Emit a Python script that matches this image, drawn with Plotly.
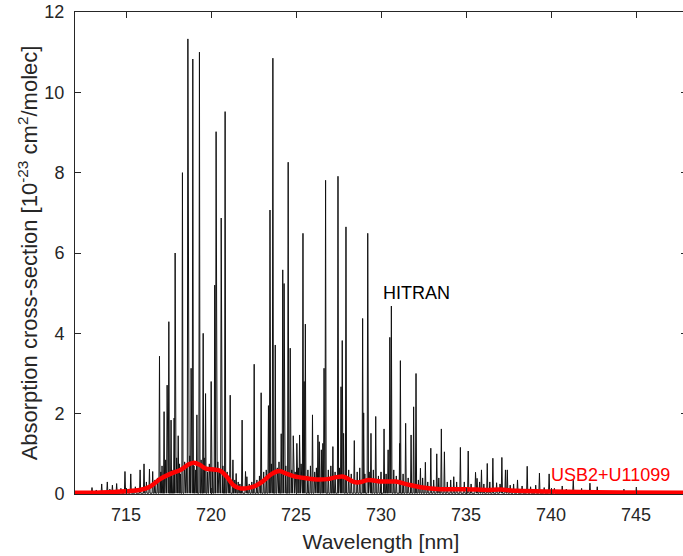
import plotly.graph_objects as go

# ---- HITRAN line positions [nm] and peak cross-sections [1e-23 cm2/molec] ----
line_nm = [
    713.00, 713.57, 713.90, 714.20, 714.45, 714.94, 715.28, 715.83, 716.06, 716.38,
    716.57, 716.97, 717.24, 717.42, 717.52, 717.65, 717.83, 717.89, 718.07, 718.32,
    718.64, 718.83, 718.93, 719.17, 719.32, 719.54, 719.68, 720.01, 720.22, 720.30,
    720.60, 720.83, 721.13, 721.29, 721.48, 721.83, 722.03, 722.11, 722.54, 722.95,
    723.38, 723.47, 723.64, 723.78, 724.13, 724.22, 724.30, 724.54, 724.66, 724.84,
    725.05, 725.21, 725.41, 725.48, 725.55, 725.97, 726.29, 726.37, 726.49, 726.58,
    726.65, 726.74, 727.17, 727.47, 727.65, 727.72, 727.80, 727.94, 728.43, 728.92,
    728.98, 729.22, 729.41, 729.69, 730.18, 730.42, 730.52, 730.61, 731.10, 731.14,
    731.45, 731.77, 731.92, 732.06, 732.32, 732.61, 732.93, 733.28, 733.55, 733.73,
    734.28, 734.67, 735.13, 735.56, 735.65, 735.91, 736.25, 736.58, 737.11, 737.32,
    737.43, 738.03, 738.60, 739.32, 739.89, 740.66, 741.31, 741.80, 742.29, 742.72,
    744.29, 745.02,
]
line_val = [
    0.16, 0.25, 0.30, 0.22, 0.26, 0.56, 0.50, 0.60, 0.75, 0.62,
    0.56, 3.43, 2.05, 2.71, 4.29, 1.84, 1.89, 6.00, 1.45, 8.00,
    11.33, 3.13, 10.83, 1.97, 11.00, 4.00, 2.50, 2.80, 5.20, 9.02,
    6.87, 9.52, 2.46, 0.85, 0.51, 1.84, 0.56, 0.43, 3.23, 2.52,
    2.20, 7.07, 10.85, 3.71, 1.50, 5.58, 5.24, 8.26, 3.63, 1.45,
    1.26, 1.47, 6.49, 2.80, 4.23, 1.97, 1.47, 1.30, 1.10, 1.26,
    3.13, 7.81, 1.18, 7.91, 2.67, 3.82, 1.51, 6.65, 1.33, 4.37,
    2.02, 6.49, 1.51, 1.93, 1.62, 1.10, 3.90, 4.68, 1.26, 3.32,
    1.76, 1.47, 2.17, 3.00, 0.64, 0.79, 1.14, 1.00, 1.62, 1.05,
    0.43, 1.16, 1.07, 0.54, 0.39, 0.60, 0.76, 0.89, 0.91, 0.60,
    0.60, 0.35, 0.69, 0.52, 0.50, 0.20, 0.35, 0.14, 0.27, 0.18,
    0.12, 0.17,
]
# weaker lines that make the dense dark band near the baseline
weak_nm = [
    712.40, 712.75, 713.25, 714.05, 714.70, 715.10, 715.55, 716.20, 716.70, 716.85,
    717.05, 717.12, 717.33, 717.70, 717.98, 718.15, 718.20, 718.45, 718.55, 718.75,
    719.00, 719.10, 719.42, 719.60, 719.80, 719.90, 720.10, 720.40, 720.50, 720.70,
    720.95, 721.05, 721.40, 721.60, 721.70, 722.25, 722.40, 722.70, 722.85, 723.10,
    723.25, 723.55, 723.90, 724.00, 724.40, 724.75, 724.95, 725.15, 725.30, 725.70,
    725.85, 726.10, 726.20, 726.90, 727.05, 727.30, 727.55, 728.10, 728.25, 728.60,
    728.75, 729.05, 729.30, 729.55, 729.85, 730.00, 730.30, 730.75, 730.90, 731.30,
    731.60, 732.20, 732.45, 732.75, 733.10, 733.40, 733.90, 734.10, 734.45, 734.90,
    735.30, 735.80, 736.05, 736.40, 736.80, 737.00, 737.60, 737.80, 738.30, 738.80,
    739.10, 739.60, 740.20, 740.90, 741.10, 742.00, 742.50, 743.00, 743.60, 746.00,
]
weak_val = [
    0.05, 0.07, 0.10, 0.12, 0.14, 0.12, 0.18, 0.30, 0.35, 0.40,
    0.55, 0.70, 0.85, 0.60, 0.90, 0.75, 0.50, 0.80, 0.65, 0.95,
    0.70, 0.60, 0.85, 0.90, 0.55, 0.75, 0.65, 0.80, 0.60, 0.70,
    0.55, 0.45, 0.35, 0.30, 0.25, 0.25, 0.30, 0.35, 0.45, 0.55,
    0.60, 0.75, 0.65, 0.80, 0.70, 0.60, 0.55, 0.65, 0.75, 0.60,
    0.70, 0.55, 0.65, 0.60, 0.70, 0.55, 0.65, 0.60, 0.50, 0.55,
    0.65, 0.50, 0.55, 0.60, 0.45, 0.55, 0.50, 0.60, 0.45, 0.50,
    0.40, 0.35, 0.40, 0.30, 0.35, 0.40, 0.30, 0.35, 0.30, 0.30,
    0.25, 0.30, 0.25, 0.30, 0.28, 0.25, 0.22, 0.25, 0.20, 0.18,
    0.22, 0.16, 0.14, 0.12, 0.10, 0.10, 0.08, 0.07, 0.06, 0.04,
]

# ---- smoothed instrument cross-section (USB2+U11099) ----
red_nm = [712.0, 713.5, 715.0, 715.8, 716.4, 717.0, 717.6, 718.2, 718.7, 719.0,
          719.36, 719.7, 720.15, 720.54, 720.93, 721.32, 721.72, 722.05, 722.6, 723.09,
          723.58, 724.0, 724.47, 724.9, 725.64, 726.23, 726.82, 727.4, 727.8, 728.4,
          728.7, 729.27, 729.96, 730.85, 731.53, 732.32, 733.5, 735.07, 736.25, 737.0,
          738.0, 740.0, 744.0, 748.0]
red_val = [0.03, 0.04, 0.07, 0.10, 0.18, 0.37, 0.50, 0.60, 0.74, 0.78,
           0.72, 0.63, 0.61, 0.58, 0.43, 0.22, 0.14, 0.14, 0.20, 0.33,
           0.50, 0.57, 0.50, 0.44, 0.39, 0.36, 0.37, 0.42, 0.43, 0.30,
           0.29, 0.35, 0.31, 0.31, 0.24, 0.17, 0.12, 0.12, 0.10, 0.11,
           0.08, 0.06, 0.04, 0.03]

x_ticks = [715, 720, 725, 730, 735, 740, 745]
y_ticks = [0, 2, 4, 6, 8, 10, 12]

# build the stick spectrum path (each line: baseline -> peak -> baseline)
lines = sorted(zip(line_nm + weak_nm, line_val + weak_val))
hw = 0.035
base = 0.02
sx, sy = [712.0], [base]
for nm, v in lines:
    sx += [nm - hw, nm, nm + hw]
    sy += [base, v, base]
sx.append(748.0)
sy.append(base)

FONT = "Liberation Sans, Arial, sans-serif"
AX = "#262626"

fig = go.Figure()
fig.add_trace(go.Scatter(x=sx, y=sy, mode="lines",
                         line=dict(color="#111111", width=1), hoverinfo="skip",
                         showlegend=False))
fig.add_trace(go.Scatter(x=red_nm, y=red_val, mode="lines",
                         line=dict(color="#ff0000", width=4.5, shape="spline"),
                         showlegend=False))

fig.add_annotation(x=732.06, y=5.0, text="HITRAN", showarrow=False,
                   font=dict(family=FONT, size=18, color="black"))
fig.add_annotation(x=747.1, y=0.47, text="USB2+U11099", showarrow=False,
                   xanchor="right",
                   font=dict(family=FONT, size=18, color="#ff0000"))

# plot area runs slightly past the right edge of the window, as in the original
fig.update_layout(
    width=688, height=556,
    margin=dict(l=75, r=1, t=12, b=62),
    plot_bgcolor="white", paper_bgcolor="white",
    font=dict(family=FONT, color=AX),
    xaxis=dict(range=[712, 748], tickvals=x_ticks, ticks="inside", ticklen=6,
               tickcolor=AX, showline=True, linecolor=AX, linewidth=1,
               mirror="ticks", showgrid=False, zeroline=False, automargin=False,
               tickfont=dict(size=18, color=AX), ticklabelstandoff=4,
               title=dict(text="Wavelength [nm]", font=dict(size=21, color=AX),
                          standoff=10)),
    yaxis=dict(range=[0, 12], tickvals=y_ticks, ticks="inside", ticklen=6,
               tickcolor=AX, showline=True, linecolor=AX, linewidth=1,
               mirror="ticks", showgrid=False, zeroline=False, automargin=False,
               ticklabeloverflow="allow",
               tickfont=dict(size=18, color=AX), ticklabelstandoff=6,
               title=dict(text="Absorption cross-section [10<sup>-23</sup> cm<sup>2</sup>/molec]",
                          font=dict(size=22, color=AX), standoff=0)),
)

fig.write_html("out.html",
               config={"displayModeBar": False},
               post_script="document.body.style.margin='0px';document.body.style.overflow='hidden';")
